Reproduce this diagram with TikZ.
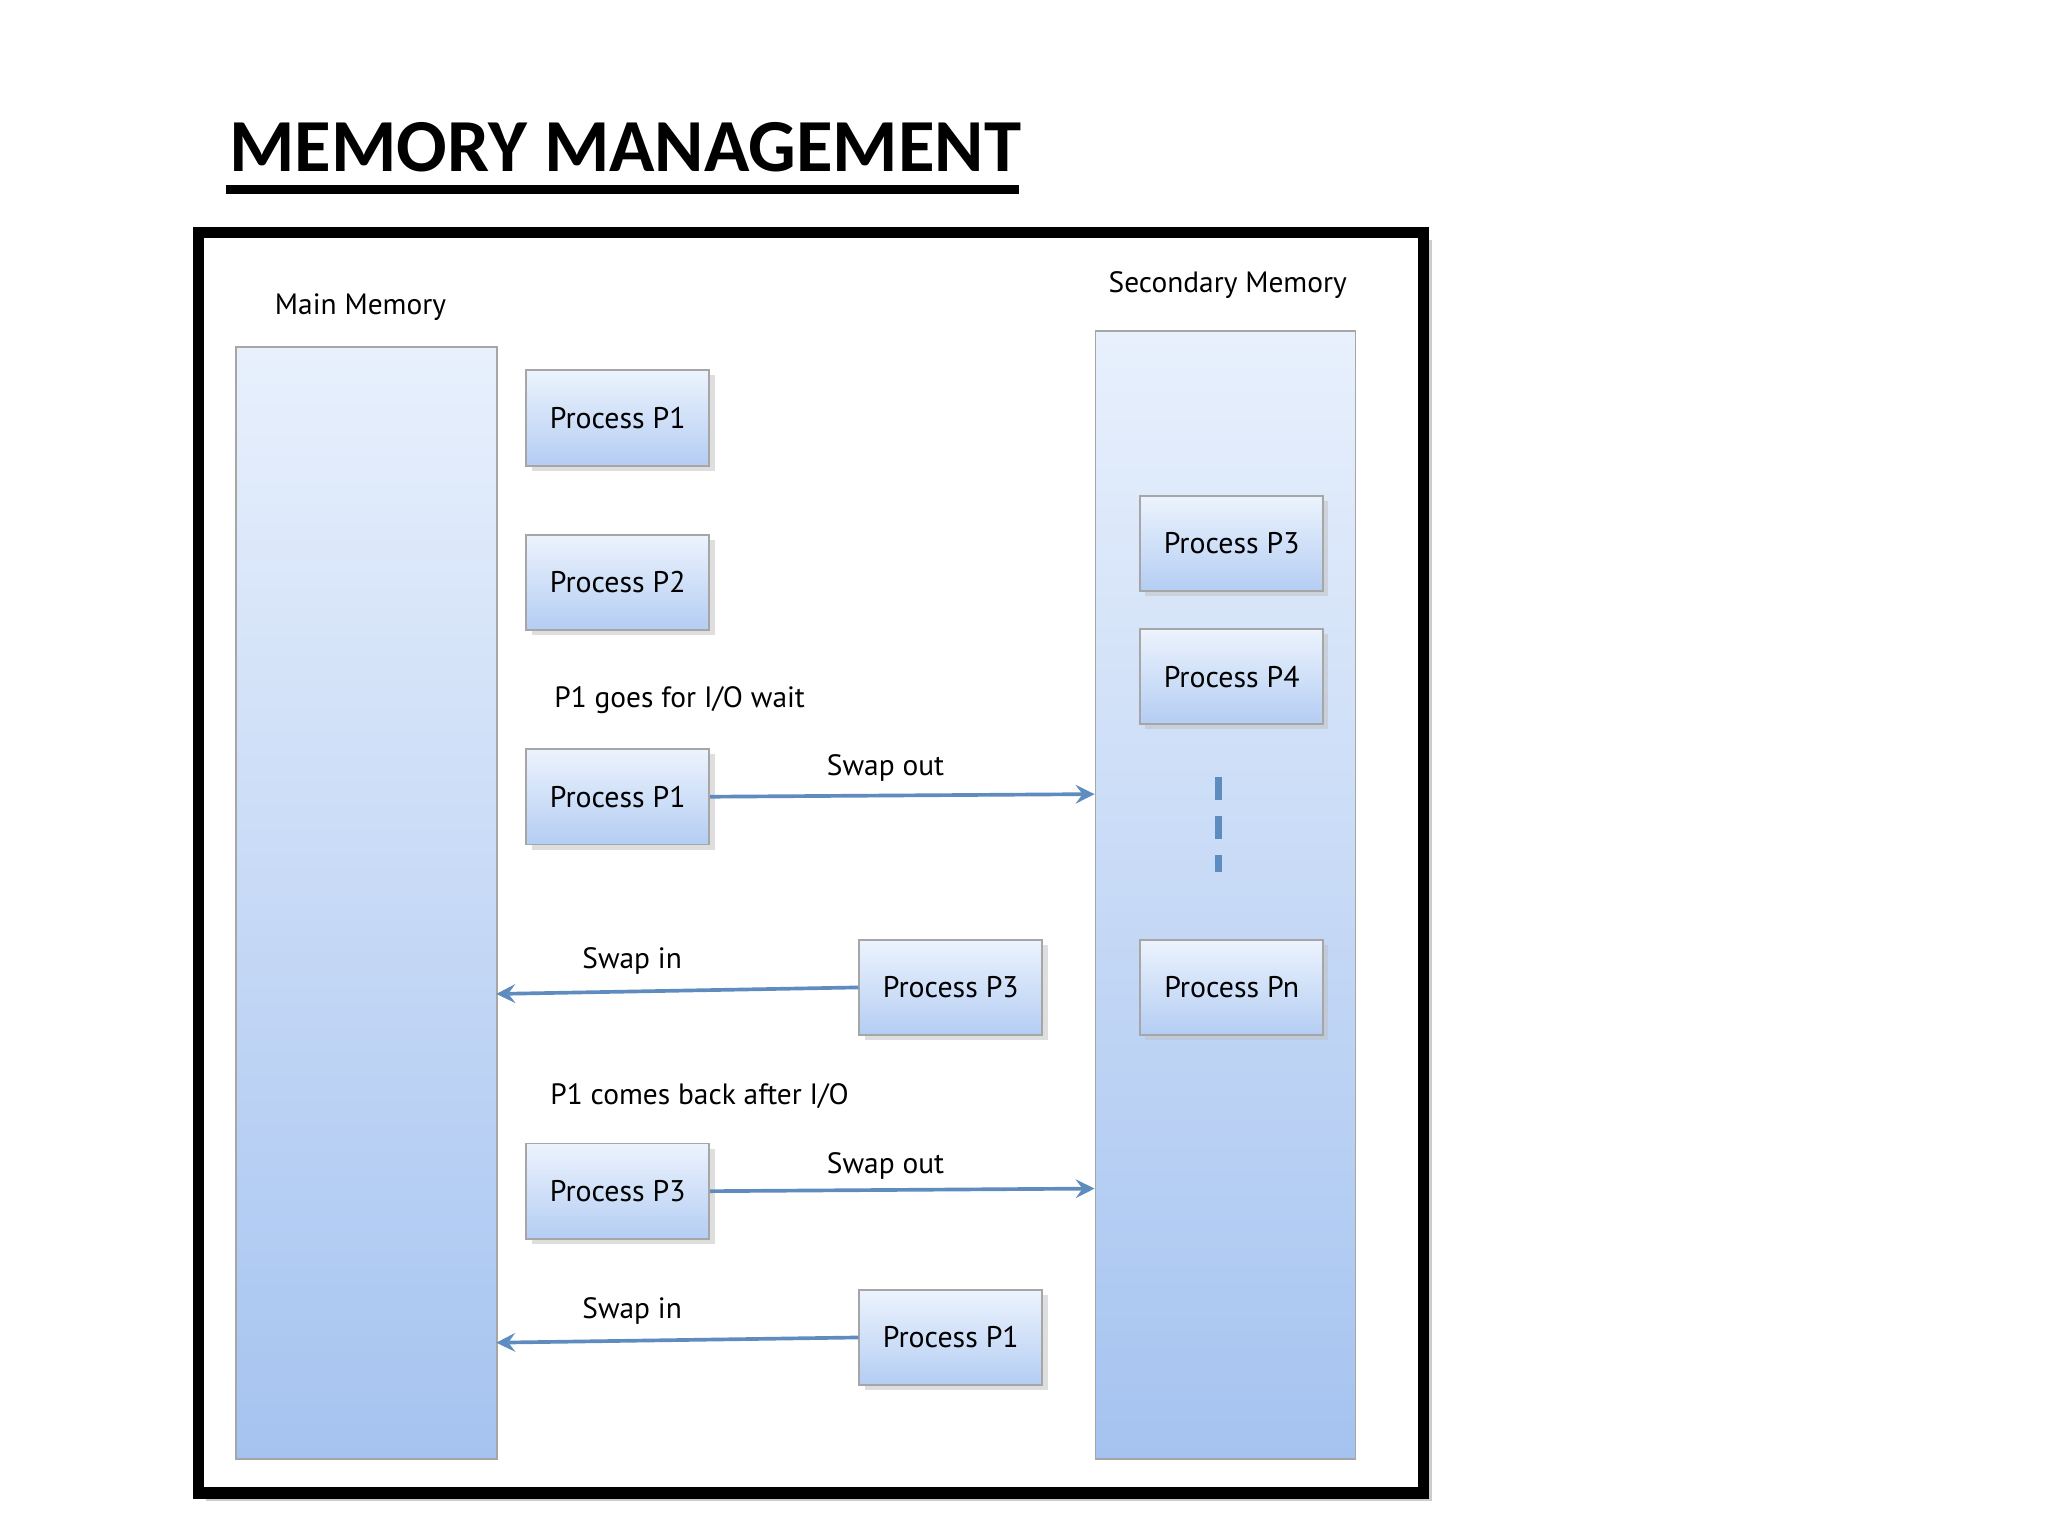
\documentclass[tikz,border=0pt]{standalone}
\usepackage{fontspec}
\setmainfont{Carlito}
\newfontfamily\boxfont{PT Sans}
\usetikzlibrary{shadows}
\definecolor{memtop}{RGB}{232,240,252}
\definecolor{membot}{RGB}{165,195,240}
\definecolor{proctop}{RGB}{236,243,253}
\definecolor{procbot}{RGB}{180,205,243}
\definecolor{arrc}{RGB}{95,140,190}
\begin{document}
\begin{tikzpicture}[x=0.01cm,y=-0.01cm,
  mem/.style={draw=gray!70,top color=memtop,bottom color=membot},
  proc/.style={draw=gray!70,top color=proctop,bottom color=procbot,minimum width=1.4cm,minimum height=0.73cm,font=\boxfont\fontsize{6.5}{8}\selectfont,drop shadow={shadow xshift=0.04cm,shadow yshift=-0.04cm,fill=gray!50}},
  lbl/.style={font=\boxfont\fontsize{6.4}{8}\selectfont},
  arr/.style={draw=arrc,line width=0.8pt,->,>=stealth}]
\useasboundingbox (0,0) rectangle (1568,1176);
\node[font=\bfseries\fontsize{16.3}{20}\selectfont,anchor=west,inner sep=0pt] (title) at (175,113) {MEMORY MANAGEMENT};
\draw[line width=1.8pt] (173,145) -- (780,145);
\fill[gray!40] (158,184) rectangle (1096,1149);
\draw[line width=2.5pt,fill=white] (152,178) rectangle (1090,1143);
\node[mem,minimum width=2cm,minimum height=8.51cm,anchor=north west] (mm) at (180,265) {};
\node[mem,minimum width=1.99cm,minimum height=8.63cm,anchor=north west] (sm) at (838,253) {};
\node[lbl] (mml) at (276,235) {Main Memory};
\node[lbl] (sml) at (940,218) {Secondary Memory};
\node[proc] (a1) at (473,320) {Process P1};
\node[proc] (a2) at (473,446) {Process P2};
\node[proc] (a3) at (473,610) {Process P1};
\node[proc] (b1) at (728,756) {Process P3};
\node[proc] (a4) at (473,912) {Process P3};
\node[proc] (b2) at (728,1024) {Process P1};
\node[proc] (s1) at (943,416) {Process P3};
\node[proc] (s2) at (943,518) {Process P4};
\node[proc] (s3) at (943,756) {Process Pn};
\node[lbl,anchor=west] (t1) at (412,536) {P1 goes for I/O wait};
\node[lbl,anchor=west] (t2) at (409,839) {P1 comes back after I/O};
\node[lbl] (o1) at (678,588) {Swap out};
\node[lbl] (o2) at (678,893) {Swap out};
\node[lbl] (i1) at (484,736) {Swap in};
\node[lbl] (i2) at (484,1004) {Swap in};
\coordinate (e1) at (838,608);
\coordinate (e2) at (380,761);
\coordinate (e3) at (838,910);
\coordinate (e4) at (380,1028);
\draw[arr] (a3.east) -- (e1);
\draw[arr] (b1.west) -- (e2);
\draw[arr] (a4.east) -- (e3);
\draw[arr] (b2.west) -- (e4);
\draw[draw=arrc,line width=1.5pt,dash pattern=on 5pt off 3.5pt] (933,595) -- (933,668);
\end{tikzpicture}
\end{document}
